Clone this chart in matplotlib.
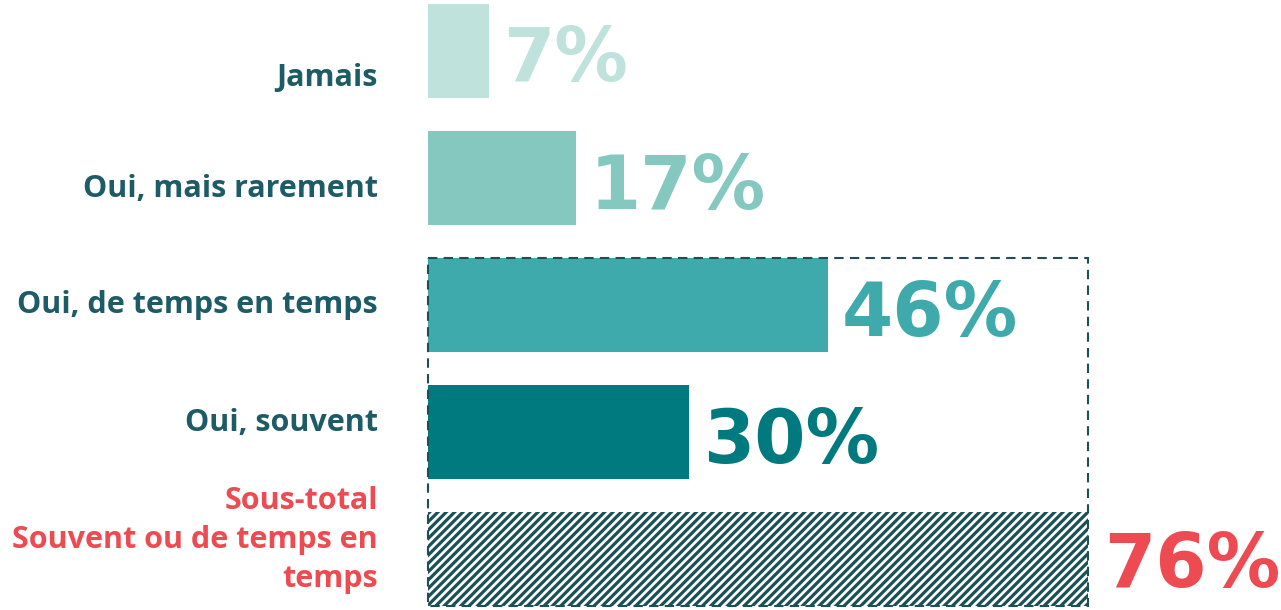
import matplotlib.pyplot as plt
from matplotlib.patches import Rectangle

plt.rcParams['font.family'] = ['Open Sans', 'DejaVu Sans']
plt.rcParams['hatch.linewidth'] = 2.3

categories = ['Jamais', 'Oui, mais rarement', 'Oui, de temps en temps', 'Oui, souvent']
values = [7, 17, 46, 30]
bar_colors = ['#c0e2dc', '#85c8c0', '#3faaab', '#007a7e']
subtotal_label = 'Sous-total\nSouvent ou de temps en\ntemps'
subtotal_value = 46 + 30

label_color = '#1d5b66'
red = '#ee4a52'
dark = '#1b5156'

# the category labels do not sit exactly at the bar centres in the original
label_y = [0.21, 1.09, 2.0, 2.93]

fig = plt.figure(figsize=(12.81, 6.10), dpi=100)
ax = fig.add_axes([428 / 1281, 0, 853 / 1281, 1])
ax.set_xlim(0, 853 / 8.69)
ax.set_ylim(4.40, -0.40)
ax.axis('off')

bh = 0.74
ys = list(range(len(categories)))
ax.barh(ys, values, height=bh, color=bar_colors)
for y, ly, v, c, name in zip(ys, label_y, values, bar_colors, categories):
    ax.text(v + 1.6, y + 0.08, f'{v}%', color=c, fontsize=53, fontweight='bold',
            family='DejaVu Sans', va='center', ha='left')
    ax.text(-5.75, ly, name, color=label_color, fontsize=22, fontweight='bold',
            va='center', ha='right')

# sous-total hachuré
ax.barh(4, subtotal_value, height=bh, color='white', edgecolor=dark, lw=0,
        hatch='////')
ax.text(subtotal_value + 1.8, 4.06, f'{subtotal_value}%', color=red, fontsize=53,
        fontweight='bold', family='DejaVu Sans', va='center', ha='left')
ax.text(-5.75, 3.85, subtotal_label, color=red, fontsize=22, fontweight='bold',
        va='center', ha='right', linespacing=1.38)

# cadre pointillé autour des deux réponses "oui"
ax.add_patch(Rectangle((0, 2 - bh / 2), subtotal_value, 2 + bh, fill=False,
                       ls=(0, (4.5, 3)), lw=1.5, edgecolor=dark, clip_on=False))

fig.savefig('out.png', dpi=100)
